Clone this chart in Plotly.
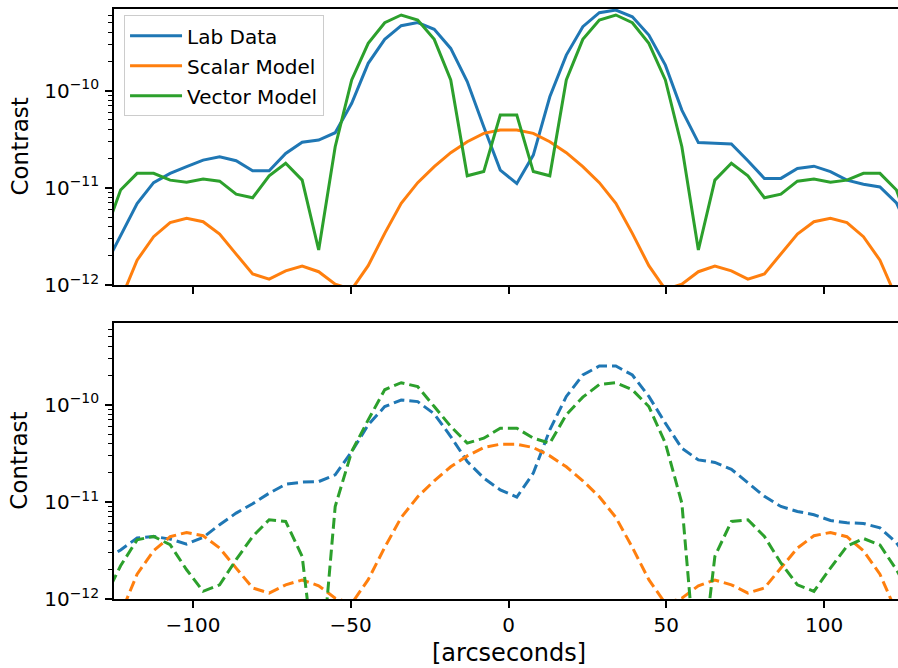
import plotly.graph_objects as go
from plotly.subplots import make_subplots

# ---------------- data ----------------
x_arcsec = [-128.14, -122.91, -117.68, -112.45, -107.22, -101.99, -96.76, -91.53, -86.30, -81.07,
            -75.84, -70.61, -65.38, -60.15, -54.92, -49.69, -44.46, -39.23, -34.00, -28.77,
            -23.54, -18.31, -13.08, -7.85, -2.62, 2.62, 7.85, 13.08, 18.31, 23.54,
            28.77, 34.00, 39.23, 44.46, 49.69, 54.92, 60.15, 65.38, 70.61, 75.84,
            81.07, 86.30, 91.53, 96.76, 101.99, 107.22, 112.45, 117.68, 122.91, 128.14]

lab_top = [1.5e-12, 3.2e-12, 6.9e-12, 1.13e-11, 1.41e-11, 1.65e-11, 1.93e-11, 2.09e-11, 1.90e-11, 1.50e-11,
           1.50e-11, 2.26e-11, 2.94e-11, 3.10e-11, 3.69e-11, 7.40e-11, 1.91e-10, 3.37e-10, 4.66e-10, 5.01e-10,
           4.27e-10, 2.72e-10, 1.24e-10, 4.26e-11, 1.52e-11,
           1.11e-11, 2.17e-11, 8.65e-11, 2.32e-10, 4.55e-10, 6.34e-10, 6.75e-10, 5.75e-10, 3.73e-10, 1.83e-10,
           6.31e-11, 2.92e-11, 2.87e-11, 2.82e-11, 1.90e-11, 1.25e-11, 1.25e-11, 1.58e-11, 1.67e-11, 1.47e-11,
           1.20e-11, 1.09e-11, 1.02e-11, 7.0e-12, 3.0e-12]

scalar = [3e-13, 7e-13, 1.8e-12, 3.14e-12, 4.38e-12, 4.85e-12, 4.48e-12, 3.35e-12, 2.08e-12, 1.30e-12,
          1.15e-12, 1.40e-12, 1.57e-12, 1.37e-12, 1.02e-12, 9.0e-13, 1.58e-12, 3.40e-12, 6.92e-12, 1.13e-11,
          1.65e-11, 2.30e-11, 2.98e-11, 3.63e-11, 3.93e-11,
          3.93e-11, 3.63e-11, 2.98e-11, 2.30e-11, 1.65e-11, 1.13e-11, 6.92e-12, 3.40e-12, 1.58e-12, 9.0e-13,
          1.02e-12, 1.37e-12, 1.57e-12, 1.40e-12, 1.15e-12, 1.30e-12, 2.08e-12, 3.35e-12, 4.48e-12, 4.85e-12,
          4.38e-12, 3.14e-12, 1.8e-12, 7e-13, 3e-13]

vector_top = [3.2e-12, 9.5e-12, 1.41e-11, 1.41e-11, 1.20e-11, 1.14e-11, 1.23e-11, 1.17e-11, 8.6e-12, 7.9e-12,
              1.33e-11, 1.79e-11, 1.20e-11, 2.29e-12, 2.65e-11, 1.29e-10, 3.07e-10, 5.0e-10, 6.0e-10, 5.32e-10,
              3.37e-10, 1.29e-10, 1.33e-11, 1.47e-11, 5.61e-11,
              5.61e-11, 1.47e-11, 1.33e-11, 1.29e-10, 3.37e-10, 5.32e-10, 6.0e-10, 5.0e-10, 3.07e-10, 1.29e-10,
              2.65e-11, 2.29e-12, 1.20e-11, 1.79e-11, 1.33e-11, 7.9e-12, 8.6e-12, 1.17e-11, 1.23e-11, 1.14e-11,
              1.20e-11, 1.41e-11, 1.41e-11, 9.5e-12, 3.2e-12]

lab_bottom = [2.5e-12, 3.2e-12, 4.25e-12, 4.41e-12, 4.14e-12, 3.68e-12, 4.31e-12, 5.82e-12, 7.67e-12, 9.57e-12,
              1.23e-11, 1.52e-11, 1.60e-11, 1.62e-11, 1.90e-11, 3.30e-11, 6.22e-11, 9.59e-11, 1.12e-10, 1.08e-10,
              8.07e-11, 4.72e-11, 2.61e-11, 1.76e-11, 1.33e-11,
              1.12e-11, 1.98e-11, 5.52e-11, 1.22e-10, 2.03e-10, 2.51e-10, 2.51e-10, 2.03e-10, 1.22e-10, 6.47e-11,
              3.57e-11, 2.71e-11, 2.55e-11, 2.17e-11, 1.56e-11, 1.14e-11, 8.98e-12, 7.98e-12, 7.38e-12, 6.44e-12,
              6.1e-12, 6.0e-12, 5.4e-12, 3.8e-12, 2.2e-12]

vector_bottom = [1.0e-12, 2.2e-12, 4.07e-12, 4.41e-12, 3.62e-12, 2.0e-12, 1.2e-12, 1.40e-12, 2.54e-12, 4.41e-12,
                 6.55e-12, 6.3e-12, 2.75e-12, 1.0e-13, 8.98e-12, 3.3e-11, 7.0e-11, 1.43e-10, 1.69e-10, 1.54e-10,
                 9.6e-11, 6.0e-11, 4.03e-11, 4.53e-11, 5.74e-11,
                 5.74e-11, 4.53e-11, 4.03e-11, 7.9e-11, 1.2e-10, 1.62e-10, 1.69e-10, 1.43e-10, 9.6e-11, 4.03e-11,
                 9.7e-12, 1.0e-13, 2.75e-12, 6.3e-12, 6.55e-12, 4.41e-12, 2.35e-12, 1.40e-12, 1.2e-12, 2.08e-12,
                 3.5e-12, 4.2e-12, 3.6e-12, 2.0e-12, 1.0e-12]

series_names = ["Lab Data", "Scalar Model", "Vector Model"]
colors = ["#1f77b4", "#ff7f0e", "#2ca02c"]

x_tick_vals = [-100, -50, 0, 50, 100]
x_tick_text = ["\u2212100", "\u221250", "0", "50", "100"]
y_tick_vals = [1e-12, 1e-11, 1e-10]
y_tick_text = ["10<sup>\u221212</sup>", "10<sup>\u221211</sup>", "10<sup>\u221210</sup>"]
y_minor_vals = [m * 10.0 ** e for e in (-12, -11, -10) for m in range(2, 10)]

# ---------------- figure ----------------
FONT = "DejaVu Sans"
fig = make_subplots(rows=2, cols=1, shared_xaxes=True)

top_series = [lab_top, scalar, vector_top]
bot_series = [lab_bottom, scalar, vector_bottom]
for name, col, ys in zip(series_names, colors, top_series):
    fig.add_trace(go.Scatter(x=x_arcsec, y=ys, mode="lines", name=name, legendgroup=name,
                             line=dict(color=col, width=3)), row=1, col=1)
for name, col, ys in zip(series_names, colors, bot_series):
    fig.add_trace(go.Scatter(x=x_arcsec, y=ys, mode="lines", name=name, showlegend=False,
                             line=dict(color=col, width=3, dash="11px,5px")), row=2, col=1)

xcommon = dict(range=[-125, 123.4], showgrid=False, zeroline=False, showline=True, mirror=True,
               linecolor="black", linewidth=1.6, ticks="outside", ticklen=7, tickwidth=1.6,
               tickcolor="black", tickmode="array", tickvals=x_tick_vals, ticktext=x_tick_text,
               tickfont=dict(family=FONT, size=20, color="black"))
ycommon = dict(type="log", range=[-12, -9.16], showgrid=False, zeroline=False, showline=True,
               mirror=False, linecolor="black", linewidth=1.6, ticks="outside", ticklen=7,
               tickwidth=1.6, tickcolor="black", tickmode="array", tickvals=y_tick_vals,
               ticktext=y_tick_text, tickfont=dict(family=FONT, size=20, color="black"),
               ticklabelstandoff=2,
               minor=dict(tickmode="array", tickvals=y_minor_vals, ticks="outside", ticklen=4,
                          tickwidth=1.2, tickcolor="black", showgrid=False))

fig.update_xaxes(**xcommon)
fig.update_yaxes(**ycommon)
fig.update_xaxes(domain=[0, 1], showticklabels=False, row=1, col=1)
fig.update_xaxes(domain=[0, 1], showticklabels=True, row=2, col=1)
fig.update_yaxes(domain=[0.5322, 1.0], row=1, col=1)
fig.update_yaxes(domain=[0.0, 0.4673], row=2, col=1)

annotations = [
    dict(text="Contrast", xref="paper", yref="y domain", x=-0.1205, y=0.5, textangle=-90,
         showarrow=False, xanchor="center", yanchor="middle",
         font=dict(family=FONT, size=23, color="black")),
    dict(text="Contrast", xref="paper", yref="y2 domain", x=-0.1205, y=0.5, textangle=-90,
         showarrow=False, xanchor="center", yanchor="middle",
         font=dict(family=FONT, size=23, color="black")),
    dict(text="[arcseconds]", xref="paper", yref="paper", x=0.5032, y=-0.0915,
         showarrow=False, xanchor="center", yanchor="middle",
         font=dict(family=FONT, size=24, color="black")),
]

fig.update_layout(
    width=898, height=668, template="none",
    paper_bgcolor="white", plot_bgcolor="white",
    margin=dict(l=114, r=0, t=9, b=69),
    font=dict(family=FONT, size=20, color="black"),
    annotations=annotations,
    showlegend=True,
    legend=dict(x=0.0128, y=0.9895, xanchor="left", yanchor="top",
                bgcolor="rgba(255,255,255,0.8)", bordercolor="#cccccc", borderwidth=1,
                font=dict(family=FONT, size=20, color="black"), itemwidth=52,
                tracegroupgap=1),
)

fig.write_html("out.html")
